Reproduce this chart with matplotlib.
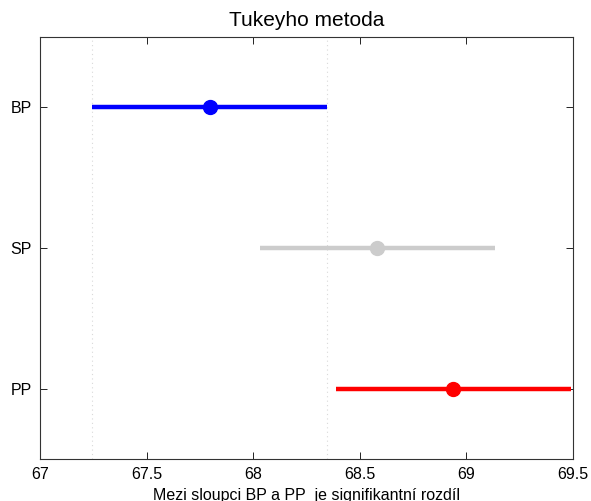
import numpy as np
import matplotlib
matplotlib.use('Agg')
import matplotlib.pyplot as plt

plt.rcParams['font.family'] = ['Liberation Sans', 'DejaVu Sans']

groups = ['BP', 'SP', 'PP']          # group names, top to bottom
means = [67.797, 68.583, 68.939]     # group estimates
halfw = [0.551, 0.551, 0.551]        # half width of comparison interval
colors = [(0, 0, 1), (0.8, 0.8, 0.8), (1, 0, 0)]
sel = 0                              # selected group (BP)

fig = plt.figure(figsize=(5.91, 5.01), dpi=100)
ax = fig.add_axes([40/591, 42/501, 533/591, 422/501])

ypos = np.arange(1, len(groups)+1)
lo = means[sel] - halfw[sel]
hi = means[sel] + halfw[sel]
for xv in (lo, hi):    # dotted lines at the selected interval
    ax.axvline(xv, color=(0.85, 0.85, 0.85), lw=0.8, ls=(0, (1, 3)), zorder=1)

for i in range(len(groups)):
    ax.plot([means[i]-halfw[i], means[i]+halfw[i]], [ypos[i], ypos[i]],
            color=colors[i], lw=3.2, solid_capstyle='butt', zorder=2)
    ax.plot(means[i], ypos[i], 'o', color=colors[i], ms=10, zorder=3)

ax.set_xlim(67, 69.5)
ax.set_ylim(3.5, 0.5)
ax.set_xticks([67, 67.5, 68, 68.5, 69, 69.5])
ax.set_xticklabels(['67', '67.5', '68', '68.5', '69', '69.5'])
ax.set_yticks(ypos)
ax.set_yticklabels(groups)
ax.tick_params(direction='in', top=True, right=True, length=5, width=0.6,
               labelsize=11.5, colors='black', pad=6)
for s in ax.spines.values():
    s.set_linewidth(0.8)
    s.set_color('#333333')

ax.set_title('Tukeyho metoda', fontsize=15, pad=8)
ax.set_xlabel('Mezi sloupci BP a PP  je signifikantní rozdíl', fontsize=11.5, labelpad=4)

plt.savefig('out.png', dpi=100)
